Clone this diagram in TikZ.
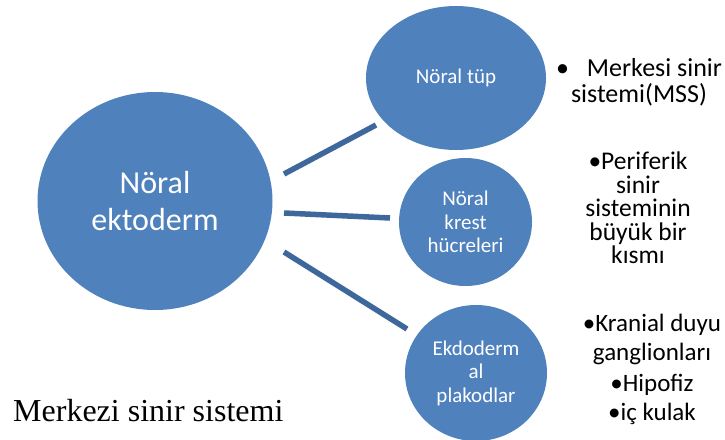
\documentclass[tikz,border=0pt]{standalone}
\usepackage{fontspec}
\setmainfont{Carlito}
\newfontfamily\serifrm{Liberation Serif}
\usetikzlibrary{shapes.geometric}
\definecolor{circblue}{HTML}{4F81BD}
\definecolor{lineblue}{HTML}{3E689B}
\tikzset{
  circ/.style={ellipse, fill=circblue, draw=none, inner sep=0pt, text=white, align=center},
  conn/.style={draw=lineblue, line width=5.5pt, line cap=butt},
  sidetext/.style={text=black, align=center, inner sep=0pt}
}
\begin{document}
\begin{tikzpicture}[x=1pt, y=-1pt]
\useasboundingbox (0,0) rectangle (725,439);
\node[circ, minimum width=235pt, minimum height=218pt, font=\fontsize{32}{37}\selectfont] (big) at (155,201) {Nöral\\ektoderm};
\node[circ, minimum width=180pt, minimum height=144pt, font=\fontsize{21}{24}\selectfont] (tup) at (456,78) {Nöral tüp};
\node[circ, minimum width=133pt, minimum height=128pt, font=\fontsize{21}{23.5}\selectfont] (krest) at (465.5,222) {Nöral\\krest\\hücreleri};
\node[circ, minimum width=142pt, minimum height=136pt, font=\fontsize{21}{23.5}\selectfont] (plak) at (476,373) {Ekdoderm\\al\\plakodlar};
\coordinate (a1) at (284,174);
\coordinate (b1) at (376,125);
\coordinate (a2) at (284,213);
\coordinate (b2) at (390,218);
\coordinate (a3) at (284,252);
\coordinate (b3) at (407,329);
\draw[conn] (a1) -- (b1);
\draw[conn] (a2) -- (b2);
\draw[conn] (a3) -- (b3);
\node[sidetext, font=\fontsize{26}{26.7}\selectfont, anchor=north] (t1) at (639,58) {•\hspace{18pt}Merkesi sinir\\sistemi(MSS)};
\node[sidetext, font=\fontsize{25.5}{23.5}\selectfont, anchor=north] (t2) at (638,152) {•Periferik\\sinir\\sisteminin\\büyük bir\\kısmı};
\node[sidetext, font=\fontsize{25}{29.3}\selectfont, anchor=north] (t3) at (652,314) {•Kranial duyu\\ganglionları\\[1.5pt]•Hipofiz\\•iç kulak};
\node[inner sep=0pt, anchor=base west, font=\serifrm\fontsize{32}{36}\selectfont] (mss) at (13,421) {Merkezi sinir sistemi};
\end{tikzpicture}
\end{document}
